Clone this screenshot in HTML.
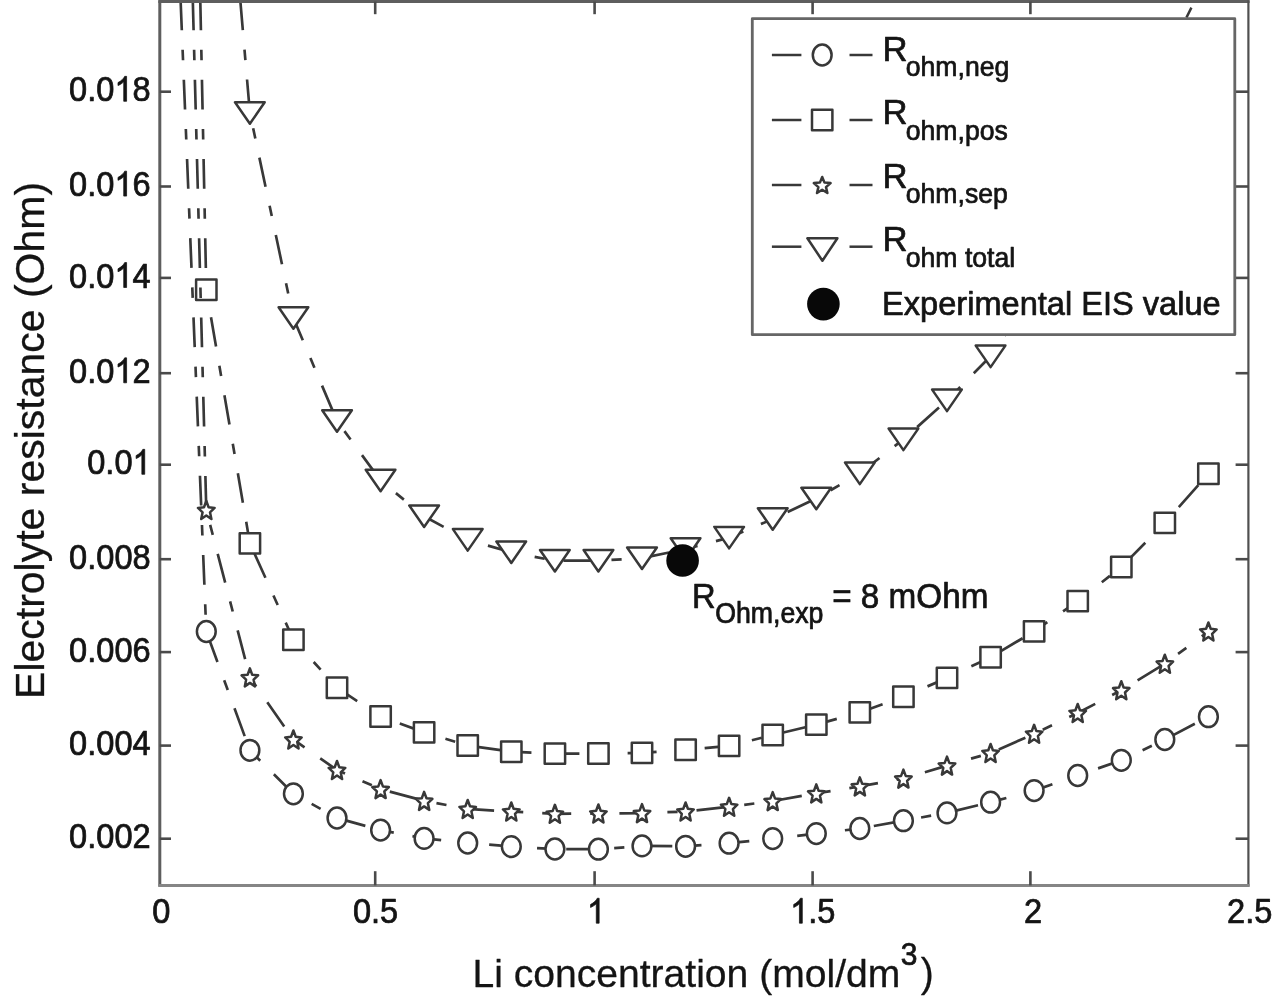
<!DOCTYPE html><html><head><meta charset="utf-8"><style>html,body{margin:0;padding:0;background:#fff;width:1280px;height:1002px;overflow:hidden}svg{display:block;will-change:transform}text{font-family:"Liberation Sans",sans-serif;fill:#141414;font-kerning:none;stroke:#141414;stroke-width:0.7px;stroke-linejoin:round}.ax{stroke-width:0.3px}</style></head><body>
<svg width="1280" height="1002" viewBox="0 0 1280 1002">
<defs><clipPath id="pa"><rect x="159.8" y="2" width="1088.6" height="883.3"/></clipPath></defs>
<rect width="1280" height="1002" fill="#fff"/>
<g>
<g clip-path="url(#pa)">
<g transform="scale(1,1.027)" fill="none" stroke="#383838" stroke-width="2.664" stroke-dasharray="29 19 10.2 19" stroke-linejoin="round">
<polyline points="180.6,0.5 206.3,614.9 249.9,730.6 293.4,772.9 337.0,796.5 380.6,808.3 424.1,816.4 467.7,820.8 511.3,824.3 554.9,826.7 598.4,826.9 642.0,823.7 685.6,824.1 729.1,821.0 772.7,816.6 816.3,811.7 859.8,806.7 903.4,799.1 947.0,791.5 990.6,781.1 1034.1,769.8 1077.7,755.1 1121.3,740.3 1164.8,720.1 1208.4,697.9" stroke-dashoffset="0.00"/>
</g>
<g fill="#fff" stroke="#383838" stroke-width="2.5" stroke-linejoin="round">
<ellipse cx="206.3" cy="631.5" rx="9.4" ry="10.4"/>
<ellipse cx="249.9" cy="750.3" rx="9.4" ry="10.4"/>
<ellipse cx="293.4" cy="793.8" rx="9.4" ry="10.4"/>
<ellipse cx="337.0" cy="818.0" rx="9.4" ry="10.4"/>
<ellipse cx="380.6" cy="830.1" rx="9.4" ry="10.4"/>
<ellipse cx="424.1" cy="838.4" rx="9.4" ry="10.4"/>
<ellipse cx="467.7" cy="843.0" rx="9.4" ry="10.4"/>
<ellipse cx="511.3" cy="846.6" rx="9.4" ry="10.4"/>
<ellipse cx="554.9" cy="849.0" rx="9.4" ry="10.4"/>
<ellipse cx="598.4" cy="849.2" rx="9.4" ry="10.4"/>
<ellipse cx="642.0" cy="845.9" rx="9.4" ry="10.4"/>
<ellipse cx="685.6" cy="846.3" rx="9.4" ry="10.4"/>
<ellipse cx="729.1" cy="843.2" rx="9.4" ry="10.4"/>
<ellipse cx="772.7" cy="838.6" rx="9.4" ry="10.4"/>
<ellipse cx="816.3" cy="833.6" rx="9.4" ry="10.4"/>
<ellipse cx="859.8" cy="828.5" rx="9.4" ry="10.4"/>
<ellipse cx="903.4" cy="820.7" rx="9.4" ry="10.4"/>
<ellipse cx="947.0" cy="812.9" rx="9.4" ry="10.4"/>
<ellipse cx="990.6" cy="802.2" rx="9.4" ry="10.4"/>
<ellipse cx="1034.1" cy="790.6" rx="9.4" ry="10.4"/>
<ellipse cx="1077.7" cy="775.5" rx="9.4" ry="10.4"/>
<ellipse cx="1121.3" cy="760.3" rx="9.4" ry="10.4"/>
<ellipse cx="1164.8" cy="739.5" rx="9.4" ry="10.4"/>
<ellipse cx="1208.4" cy="716.7" rx="9.4" ry="10.4"/>
</g></g>
<g clip-path="url(#pa)">
<g transform="scale(1,1.027)" fill="none" stroke="#383838" stroke-width="2.664" stroke-dasharray="29 19 10.2 19" stroke-linejoin="round">
<polyline points="200.3,0.5 206.3,282.2 249.9,529.1 293.4,622.9 337.0,669.6 380.6,697.7 424.1,713.1 467.7,725.9 511.3,731.9 554.9,733.8 598.4,733.7 642.0,733.1 685.6,730.1 729.1,726.3 772.7,715.7 816.3,705.6 859.8,693.7 903.4,678.5 947.0,660.1 990.6,639.9 1034.1,614.8 1077.7,585.3 1121.3,552.1 1164.8,509.2 1208.4,461.3" stroke-dashoffset="0.00"/>
</g>
<g fill="#fff" stroke="#383838" stroke-width="2.5" stroke-linejoin="round">
<rect x="196.1" y="279.6" width="20.4" height="20.4"/>
<rect x="239.7" y="533.2" width="20.4" height="20.4"/>
<rect x="283.2" y="629.5" width="20.4" height="20.4"/>
<rect x="326.8" y="677.5" width="20.4" height="20.4"/>
<rect x="370.4" y="706.3" width="20.4" height="20.4"/>
<rect x="413.9" y="722.2" width="20.4" height="20.4"/>
<rect x="457.5" y="735.3" width="20.4" height="20.4"/>
<rect x="501.1" y="741.5" width="20.4" height="20.4"/>
<rect x="544.7" y="743.4" width="20.4" height="20.4"/>
<rect x="588.2" y="743.3" width="20.4" height="20.4"/>
<rect x="631.8" y="742.7" width="20.4" height="20.4"/>
<rect x="675.4" y="739.6" width="20.4" height="20.4"/>
<rect x="718.9" y="735.7" width="20.4" height="20.4"/>
<rect x="762.5" y="724.8" width="20.4" height="20.4"/>
<rect x="806.1" y="714.4" width="20.4" height="20.4"/>
<rect x="849.6" y="702.2" width="20.4" height="20.4"/>
<rect x="893.2" y="686.6" width="20.4" height="20.4"/>
<rect x="936.8" y="667.7" width="20.4" height="20.4"/>
<rect x="980.4" y="647.0" width="20.4" height="20.4"/>
<rect x="1023.9" y="621.2" width="20.4" height="20.4"/>
<rect x="1067.5" y="590.9" width="20.4" height="20.4"/>
<rect x="1111.1" y="556.8" width="20.4" height="20.4"/>
<rect x="1154.6" y="512.7" width="20.4" height="20.4"/>
<rect x="1198.2" y="463.6" width="20.4" height="20.4"/>
</g></g>
<g clip-path="url(#pa)">
<g transform="scale(1,1.027)" fill="none" stroke="#383838" stroke-width="2.664" stroke-dasharray="29 19 10.2 19" stroke-linejoin="round">
<polyline points="192.8,0.5 206.3,496.6 249.9,659.6 293.4,720.1 337.0,749.8 380.6,768.4 424.1,779.8 467.7,787.7 511.3,790.2 554.9,792.4 598.4,792.1 642.0,791.7 685.6,790.2 729.1,785.6 772.7,780.0 816.3,772.5 859.8,765.7 903.4,758.1 947.0,745.5 990.6,733.2 1034.1,714.5 1077.7,694.3 1121.3,672.1 1164.8,646.3 1208.4,614.9" stroke-dashoffset="0.00"/>
</g>
<g fill="#fff" stroke="#383838" stroke-width="2.5" stroke-linejoin="round">
<polygon points="206.3,501.0 208.6,507.3 214.6,507.9 210.0,512.3 211.4,519.0 206.3,515.5 201.2,519.0 202.6,512.3 198.0,507.9 204.0,507.3"/>
<polygon points="249.9,668.4 252.2,674.7 258.1,675.3 253.6,679.7 255.0,686.4 249.9,682.9 244.8,686.4 246.1,679.7 241.6,675.3 247.6,674.7"/>
<polygon points="293.4,730.5 295.7,736.8 301.7,737.4 297.2,741.8 298.6,748.5 293.4,745.0 288.3,748.5 289.7,741.8 285.2,737.4 291.1,736.8"/>
<polygon points="337.0,761.0 339.3,767.3 345.3,767.9 340.7,772.3 342.1,779.0 337.0,775.5 331.9,779.0 333.3,772.3 328.7,767.9 334.7,767.3"/>
<polygon points="380.6,780.1 382.9,786.4 388.9,787.0 384.3,791.4 385.7,798.1 380.6,794.6 375.5,798.1 376.9,791.4 372.3,787.0 378.3,786.4"/>
<polygon points="424.1,791.9 426.5,798.2 432.4,798.8 427.9,803.2 429.3,809.9 424.1,806.4 419.0,809.9 420.4,803.2 415.9,798.8 421.8,798.2"/>
<polygon points="467.7,800.0 470.0,806.3 476.0,806.9 471.4,811.3 472.8,818.0 467.7,814.5 462.6,818.0 464.0,811.3 459.4,806.9 465.4,806.3"/>
<polygon points="511.3,802.5 513.6,808.8 519.6,809.4 515.0,813.8 516.4,820.5 511.3,817.0 506.2,820.5 507.6,813.8 503.0,809.4 509.0,808.8"/>
<polygon points="554.9,804.8 557.2,811.1 563.1,811.7 558.6,816.1 560.0,822.8 554.9,819.3 549.7,822.8 551.1,816.1 546.6,811.7 552.6,811.1"/>
<polygon points="598.4,804.5 600.7,810.8 606.7,811.4 602.2,815.8 603.5,822.5 598.4,819.0 593.3,822.5 594.7,815.8 590.2,811.4 596.1,810.8"/>
<polygon points="642.0,804.1 644.3,810.4 650.3,811.0 645.7,815.4 647.1,822.1 642.0,818.6 636.9,822.1 638.3,815.4 633.7,811.0 639.7,810.4"/>
<polygon points="685.6,802.5 687.9,808.8 693.8,809.4 689.3,813.8 690.7,820.5 685.6,817.0 680.5,820.5 681.8,813.8 677.3,809.4 683.3,808.8"/>
<polygon points="729.1,797.8 731.4,804.1 737.4,804.7 732.9,809.1 734.3,815.8 729.1,812.3 724.0,815.8 725.4,809.1 720.9,804.7 726.8,804.1"/>
<polygon points="772.7,792.1 775.0,798.4 781.0,799.0 776.4,803.4 777.8,810.1 772.7,806.6 767.6,810.1 769.0,803.4 764.4,799.0 770.4,798.4"/>
<polygon points="816.3,784.4 818.6,790.7 824.6,791.3 820.0,795.7 821.4,802.4 816.3,798.9 811.2,802.4 812.6,795.7 808.0,791.3 814.0,790.7"/>
<polygon points="859.8,777.4 862.2,783.7 868.1,784.3 863.6,788.7 865.0,795.4 859.8,791.9 854.7,795.4 856.1,788.7 851.6,784.3 857.5,783.7"/>
<polygon points="903.4,769.6 905.7,775.9 911.7,776.5 907.1,780.9 908.5,787.6 903.4,784.1 898.3,787.6 899.7,780.9 895.1,776.5 901.1,775.9"/>
<polygon points="947.0,756.6 949.3,762.9 955.3,763.5 950.7,767.9 952.1,774.6 947.0,771.1 941.9,774.6 943.3,767.9 938.7,763.5 944.7,762.9"/>
<polygon points="990.6,744.0 992.9,750.3 998.8,750.9 994.3,755.3 995.7,762.0 990.6,758.5 985.4,762.0 986.8,755.3 982.3,750.9 988.3,750.3"/>
<polygon points="1034.1,724.8 1036.4,731.1 1042.4,731.7 1037.9,736.1 1039.2,742.8 1034.1,739.3 1029.0,742.8 1030.4,736.1 1025.9,731.7 1031.8,731.1"/>
<polygon points="1077.7,704.0 1080.0,710.3 1086.0,710.9 1081.4,715.3 1082.8,722.0 1077.7,718.5 1072.6,722.0 1074.0,715.3 1069.4,710.9 1075.4,710.3"/>
<polygon points="1121.3,681.2 1123.6,687.5 1129.5,688.1 1125.0,692.5 1126.4,699.2 1121.3,695.7 1116.2,699.2 1117.5,692.5 1113.0,688.1 1119.0,687.5"/>
<polygon points="1164.8,654.7 1167.1,661.0 1173.1,661.6 1168.6,666.0 1170.0,672.7 1164.8,669.2 1159.7,672.7 1161.1,666.0 1156.6,661.6 1162.5,661.0"/>
<polygon points="1208.4,622.5 1210.7,628.8 1216.7,629.4 1212.1,633.8 1213.5,640.5 1208.4,637.0 1203.3,640.5 1204.7,633.8 1200.1,629.4 1206.1,628.8"/>
</g></g>
<g clip-path="url(#pa)">
<g transform="scale(1,1.027)" fill="none" stroke="#383838" stroke-width="2.664" stroke-dasharray="29 19 10.2 19" stroke-linejoin="round">
<polyline points="240.3,0.5 249.9,110.0 293.4,309.6 337.0,409.9" stroke-dashoffset="0.00"/>
<polyline points="337.0,409.9 380.6,467.9" stroke-dashoffset="421.62"/>
<polyline points="380.6,467.9 424.1,502.7 467.7,525.7 511.3,537.7 554.9,546.0 598.4,546.0 642.0,543.5 685.6,534.6 729.1,523.5 772.7,505.4 816.3,485.4 859.8,460.9 903.4,427.8 947.0,389.9 990.6,346.9 1034.1,284.3 1077.7,219.1 1121.3,149.0" stroke-dashoffset="491.61"/>
</g>
<g fill="#fff" stroke="#383838" stroke-width="2.5" stroke-linejoin="round">
<polygon points="235.0,102.2 264.7,102.2 249.9,123.8"/>
<polygon points="278.6,307.2 308.3,307.2 293.4,328.8"/>
<polygon points="322.2,410.2 351.9,410.2 337.0,431.8"/>
<polygon points="365.7,469.8 395.4,469.8 380.6,491.2"/>
<polygon points="409.3,505.5 439.0,505.5 424.1,527.0"/>
<polygon points="452.9,529.1 482.6,529.1 467.7,550.6"/>
<polygon points="496.4,541.5 526.1,541.5 511.3,563.0"/>
<polygon points="540.0,550.0 569.7,550.0 554.9,571.5"/>
<polygon points="583.6,550.0 613.3,550.0 598.4,571.5"/>
<polygon points="627.1,547.5 656.9,547.5 642.0,569.0"/>
<polygon points="670.7,538.2 700.4,538.2 685.6,559.8"/>
<polygon points="714.3,526.9 744.0,526.9 729.1,548.4"/>
<polygon points="757.9,508.2 787.6,508.2 772.7,529.8"/>
<polygon points="801.4,487.8 831.1,487.8 816.3,509.2"/>
<polygon points="845.0,462.6 874.7,462.6 859.8,484.1"/>
<polygon points="888.6,428.6 918.3,428.6 903.4,450.1"/>
<polygon points="932.1,389.6 961.8,389.6 947.0,411.1"/>
<polygon points="975.7,345.6 1005.4,345.6 990.6,367.1"/>
<polygon points="1019.3,281.2 1049.0,281.2 1034.1,302.8"/>
<polygon points="1062.9,214.2 1092.5,214.2 1077.7,235.8"/>
<polygon points="1106.4,142.2 1136.1,142.2 1121.3,163.8"/>
</g></g>
<circle cx="682.6" cy="560.5" r="16.3" fill="#080808"/>
<line x1="1186.4" y1="17.6" x2="1191.4" y2="7.6" stroke="#383838" stroke-width="2.5"/>
<line x1="159.8" y1="0.5" x2="159.8" y2="886.5" stroke="#5e5e5e" stroke-width="3"/>
<line x1="158.3" y1="1.6" x2="1249.6" y2="1.6" stroke="#5e5e5e" stroke-width="3"/>
<line x1="1248.4" y1="0.5" x2="1248.4" y2="886.5" stroke="#505050" stroke-width="2.2"/>
<line x1="158.3" y1="885.4" x2="1249.6" y2="885.4" stroke="#858585" stroke-width="3"/>
<line x1="159.8" y1="91.7" x2="171" y2="91.7" stroke="#4a4a4a" stroke-width="2.6"/>
<line x1="1248.4" y1="91.7" x2="1235.6" y2="91.7" stroke="#4a4a4a" stroke-width="2.6"/>
<line x1="159.8" y1="186.5" x2="171" y2="186.5" stroke="#4a4a4a" stroke-width="2.6"/>
<line x1="1248.4" y1="186.5" x2="1235.6" y2="186.5" stroke="#4a4a4a" stroke-width="2.6"/>
<line x1="159.8" y1="277.9" x2="171" y2="277.9" stroke="#4a4a4a" stroke-width="2.6"/>
<line x1="1248.4" y1="277.9" x2="1235.6" y2="277.9" stroke="#4a4a4a" stroke-width="2.6"/>
<line x1="159.8" y1="373.2" x2="171" y2="373.2" stroke="#4a4a4a" stroke-width="2.6"/>
<line x1="1248.4" y1="373.2" x2="1235.6" y2="373.2" stroke="#4a4a4a" stroke-width="2.6"/>
<line x1="159.8" y1="464.7" x2="171" y2="464.7" stroke="#4a4a4a" stroke-width="2.6"/>
<line x1="1248.4" y1="464.7" x2="1235.6" y2="464.7" stroke="#4a4a4a" stroke-width="2.6"/>
<line x1="159.8" y1="559.2" x2="171" y2="559.2" stroke="#4a4a4a" stroke-width="2.6"/>
<line x1="1248.4" y1="559.2" x2="1235.6" y2="559.2" stroke="#4a4a4a" stroke-width="2.6"/>
<line x1="159.8" y1="652.1" x2="171" y2="652.1" stroke="#4a4a4a" stroke-width="2.6"/>
<line x1="1248.4" y1="652.1" x2="1235.6" y2="652.1" stroke="#4a4a4a" stroke-width="2.6"/>
<line x1="159.8" y1="745.6" x2="171" y2="745.6" stroke="#4a4a4a" stroke-width="2.6"/>
<line x1="1248.4" y1="745.6" x2="1235.6" y2="745.6" stroke="#4a4a4a" stroke-width="2.6"/>
<line x1="159.8" y1="838.7" x2="171" y2="838.7" stroke="#4a4a4a" stroke-width="2.6"/>
<line x1="1248.4" y1="838.7" x2="1235.6" y2="838.7" stroke="#4a4a4a" stroke-width="2.6"/>
<line x1="375.2" y1="885.4" x2="375.2" y2="871.2" stroke="#4a4a4a" stroke-width="2.6"/>
<line x1="375.2" y1="1.6" x2="375.2" y2="14.2" stroke="#4a4a4a" stroke-width="2.6"/>
<line x1="594.6" y1="885.4" x2="594.6" y2="871.2" stroke="#4a4a4a" stroke-width="2.6"/>
<line x1="594.6" y1="1.6" x2="594.6" y2="14.2" stroke="#4a4a4a" stroke-width="2.6"/>
<line x1="812.6" y1="885.4" x2="812.6" y2="871.2" stroke="#4a4a4a" stroke-width="2.6"/>
<line x1="812.6" y1="1.6" x2="812.6" y2="14.2" stroke="#4a4a4a" stroke-width="2.6"/>
<line x1="1030.4" y1="885.4" x2="1030.4" y2="871.2" stroke="#4a4a4a" stroke-width="2.6"/>
<line x1="1030.4" y1="1.6" x2="1030.4" y2="14.2" stroke="#4a4a4a" stroke-width="2.6"/>
<text transform="translate(69.12,101.30) scale(1,1.065)" font-size="32.6">0.0</text><path transform="translate(114.44,101.30) scale(0.01592,-0.01695)" d="M763,0 L583,0 L583,1147 Q518,1085 412.5,1023 T223,930 L223,1104 Q373,1175 485.5,1276 T645,1472 L763,1472 Z" fill="#141414" stroke="#141414" stroke-width="44.0" stroke-linejoin="round"/><text transform="translate(132.57,101.30) scale(1,1.065)" font-size="32.6">8</text>
<text transform="translate(69.12,196.10) scale(1,1.065)" font-size="32.6">0.0</text><path transform="translate(114.44,196.10) scale(0.01592,-0.01695)" d="M763,0 L583,0 L583,1147 Q518,1085 412.5,1023 T223,930 L223,1104 Q373,1175 485.5,1276 T645,1472 L763,1472 Z" fill="#141414" stroke="#141414" stroke-width="44.0" stroke-linejoin="round"/><text transform="translate(132.57,196.10) scale(1,1.065)" font-size="32.6">6</text>
<text transform="translate(69.12,287.50) scale(1,1.065)" font-size="32.6">0.0</text><path transform="translate(114.44,287.50) scale(0.01592,-0.01695)" d="M763,0 L583,0 L583,1147 Q518,1085 412.5,1023 T223,930 L223,1104 Q373,1175 485.5,1276 T645,1472 L763,1472 Z" fill="#141414" stroke="#141414" stroke-width="44.0" stroke-linejoin="round"/><text transform="translate(132.57,287.50) scale(1,1.065)" font-size="32.6">4</text>
<text transform="translate(69.12,382.80) scale(1,1.065)" font-size="32.6">0.0</text><path transform="translate(114.44,382.80) scale(0.01592,-0.01695)" d="M763,0 L583,0 L583,1147 Q518,1085 412.5,1023 T223,930 L223,1104 Q373,1175 485.5,1276 T645,1472 L763,1472 Z" fill="#141414" stroke="#141414" stroke-width="44.0" stroke-linejoin="round"/><text transform="translate(132.57,382.80) scale(1,1.065)" font-size="32.6">2</text>
<text transform="translate(87.25,474.30) scale(1,1.065)" font-size="32.6">0.0</text><path transform="translate(132.57,474.30) scale(0.01592,-0.01695)" d="M763,0 L583,0 L583,1147 Q518,1085 412.5,1023 T223,930 L223,1104 Q373,1175 485.5,1276 T645,1472 L763,1472 Z" fill="#141414" stroke="#141414" stroke-width="44.0" stroke-linejoin="round"/>
<text transform="translate(69.12,568.80) scale(1,1.065)" font-size="32.6">0.008</text>
<text transform="translate(69.12,661.70) scale(1,1.065)" font-size="32.6">0.006</text>
<text transform="translate(69.12,755.20) scale(1,1.065)" font-size="32.6">0.004</text>
<text transform="translate(69.12,848.30) scale(1,1.065)" font-size="32.6">0.002</text>
<text transform="translate(152.33,923.20) scale(1,1.065)" font-size="32.6">0</text>
<text transform="translate(352.89,923.20) scale(1,1.065)" font-size="32.6">0.5</text>
<path transform="translate(587.00,923.20) scale(0.01592,-0.01695)" d="M763,0 L583,0 L583,1147 Q518,1085 412.5,1023 T223,930 L223,1104 Q373,1175 485.5,1276 T645,1472 L763,1472 Z" fill="#141414" stroke="#141414" stroke-width="44.0" stroke-linejoin="round"/>
<path transform="translate(790.15,923.20) scale(0.01592,-0.01695)" d="M763,0 L583,0 L583,1147 Q518,1085 412.5,1023 T223,930 L223,1104 Q373,1175 485.5,1276 T645,1472 L763,1472 Z" fill="#141414" stroke="#141414" stroke-width="44.0" stroke-linejoin="round"/><text transform="translate(808.28,923.20) scale(1,1.065)" font-size="32.6">.5</text>
<text transform="translate(1023.93,923.20) scale(1,1.065)" font-size="32.6">2</text>
<text transform="translate(1227.06,923.20) scale(1,1.065)" font-size="32.6">2.5</text>
<text transform="translate(691.92,608.20) scale(1,1.045)" font-size="32.7">R</text>
<text transform="translate(715.14,623.00) scale(1,1.070)" font-size="26.7">Ohm,exp</text>
<text transform="translate(832.17,608.20) scale(1,1.035)" font-size="33.3">= 8 mOhm</text>
<rect x="752.3" y="18.7" width="482.5" height="316.0" fill="#fff" stroke="#666" stroke-width="2.8" stroke-linejoin="round"/>
<line x1="771.9" y1="55" x2="801.4" y2="55" stroke="#383838" stroke-width="2.5"/>
<line x1="849.5" y1="55" x2="872.5" y2="55" stroke="#383838" stroke-width="2.5"/>
<g fill="#fff" stroke="#383838" stroke-width="2.5" stroke-linejoin="round"><ellipse cx="822.2" cy="55.0" rx="9.4" ry="10.4"/></g>
<text transform="translate(882.45,60.60) scale(1,1.015)" font-size="34.7">R</text>
<text transform="translate(905.78,75.90) scale(1,1.030)" font-size="26.6">ohm,neg</text>
<line x1="771.9" y1="120" x2="801.4" y2="120" stroke="#383838" stroke-width="2.5"/>
<line x1="849.5" y1="120" x2="872.5" y2="120" stroke="#383838" stroke-width="2.5"/>
<g fill="#fff" stroke="#383838" stroke-width="2.5" stroke-linejoin="round"><rect x="812.0" y="109.8" width="20.4" height="20.4"/></g>
<text transform="translate(882.45,124.20) scale(1,1.015)" font-size="34.7">R</text>
<text transform="translate(905.78,139.50) scale(1,1.030)" font-size="26.6">ohm,pos</text>
<line x1="771.9" y1="185" x2="801.4" y2="185" stroke="#383838" stroke-width="2.5"/>
<line x1="849.5" y1="185" x2="872.5" y2="185" stroke="#383838" stroke-width="2.5"/>
<g fill="#fff" stroke="#383838" stroke-width="2.5" stroke-linejoin="round"><polygon points="822.2,177.0 824.5,182.6 830.6,183.1 826.0,187.1 827.4,193.0 822.2,189.8 817.0,193.0 818.4,187.1 813.8,183.1 819.9,182.6"/></g>
<text transform="translate(882.45,187.80) scale(1,1.015)" font-size="34.7">R</text>
<text transform="translate(905.78,203.10) scale(1,1.030)" font-size="26.6">ohm,sep</text>
<line x1="771.9" y1="246.7" x2="801.4" y2="246.7" stroke="#383838" stroke-width="2.5"/>
<line x1="849.5" y1="246.7" x2="872.5" y2="246.7" stroke="#383838" stroke-width="2.5"/>
<g fill="#fff" stroke="#383838" stroke-width="2.5" stroke-linejoin="round"><polygon points="807.4,238.3 837.4,238.3 822.4,260.7"/></g>
<text transform="translate(882.45,251.40) scale(1,1.015)" font-size="34.7">R</text>
<text transform="translate(905.78,266.70) scale(1,1.030)" font-size="26.6">ohm total</text>
<circle cx="823.4" cy="304.1" r="16.3" fill="#080808"/>
<text transform="translate(882.03,315.30) scale(1,1.035)" font-size="32.6">Experimental EIS value</text>
<text transform="translate(472.39,987.00) scale(1,1.010)" font-size="39.1" class="ax">Li concentration (mol/dm</text>
<text transform="translate(900.86,964.60) scale(1,1.070)" font-size="30">3</text>
<text transform="translate(920.77,987.00) scale(1,1.060)" font-size="39.1" class="ax">)</text>
<text class="ax" transform="translate(43.6,698.96) rotate(-90) scale(1,0.97)" font-size="41.0">Electrolyte resistance (Ohm)</text>
</g></svg></body></html>
